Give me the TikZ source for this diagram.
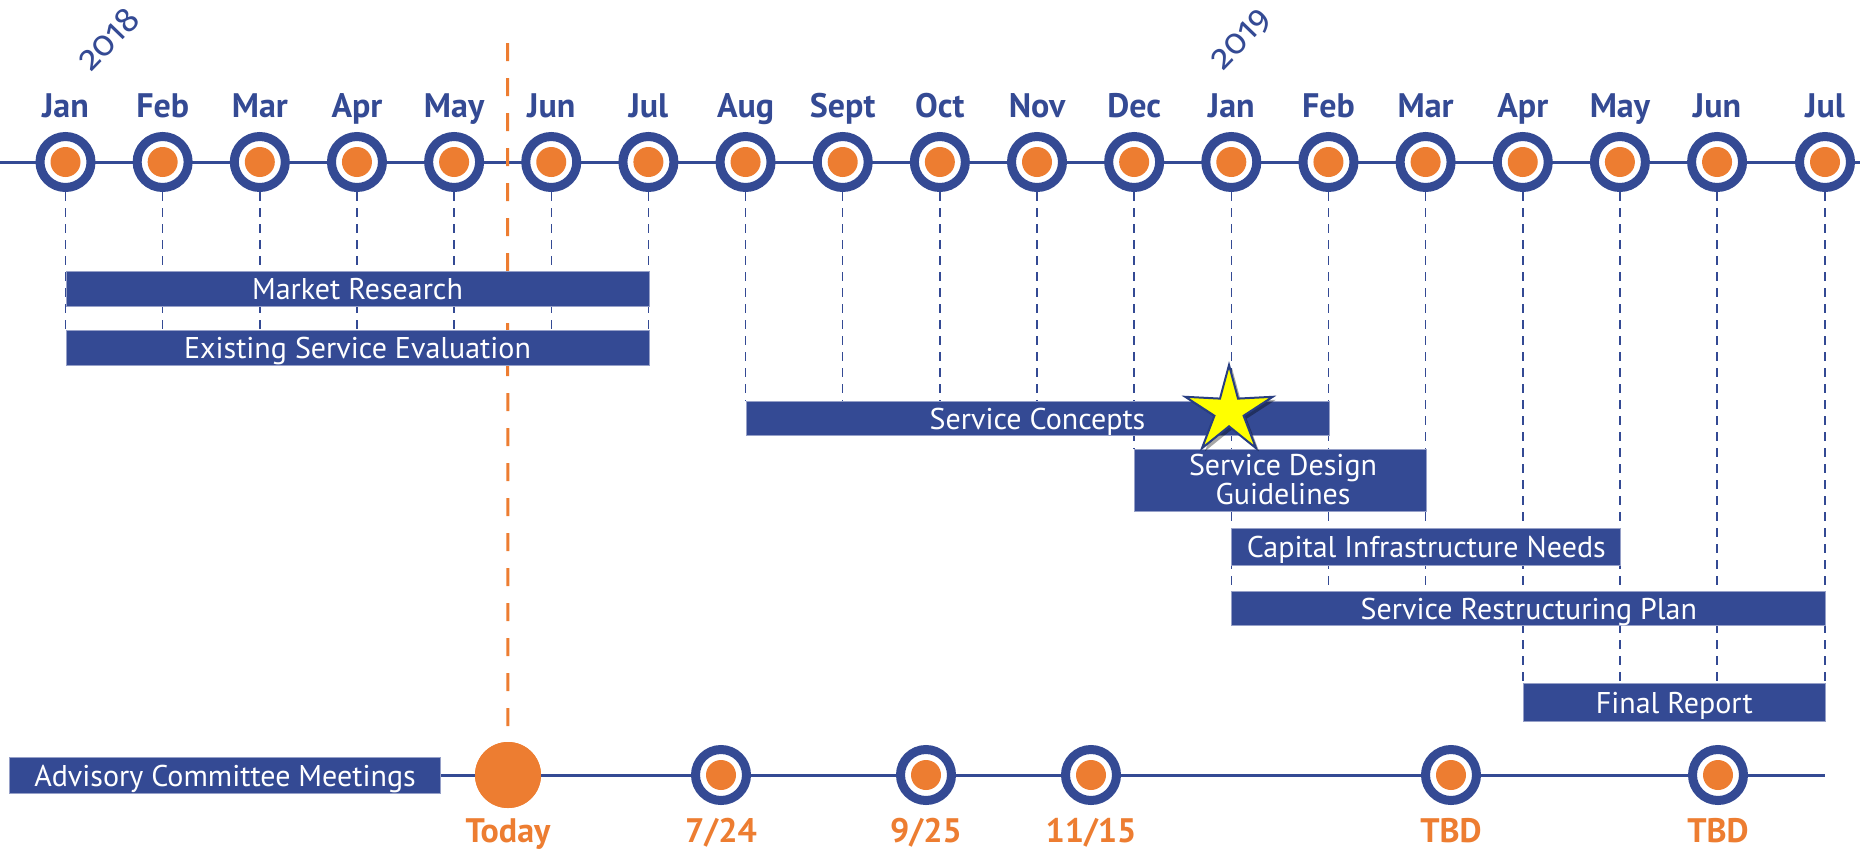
\documentclass[tikz,border=0pt]{standalone}
\usepackage{fontspec}
\setmainfont{PT Sans}
\newfontfamily\yearfont[Numbers=OldStyle]{Fira Sans}
\usetikzlibrary{shapes.geometric,shadows}
\definecolor{tblue}{RGB}{52,74,148}
\definecolor{tedge}{RGB}{150,160,200}
\definecolor{torange}{RGB}{237,125,49}
\definecolor{tyellow}{RGB}{255,255,0}
\definecolor{tstar}{RGB}{40,62,130}
\tikzset{
  ring/.style={circle, draw=tblue, line width=9pt, fill=white, minimum size=51pt, inner sep=0pt},
  dot/.style={circle, fill=torange, minimum size=30pt, inner sep=0pt},
  monthlabel/.style={font=\fontsize{34}{34}\selectfont\bfseries, text=tblue, anchor=base, inner sep=0pt},
  datelabel/.style={font=\fontsize{34}{34}\selectfont\bfseries, text=torange, anchor=base, inner sep=0pt},
  yearlabel/.style={font=\yearfont\fontsize{35}{35}\selectfont, text=tblue, inner sep=0pt, rotate=46},
  guide/.style={draw=tblue, line width=1.5pt, dash pattern=on 9pt off 7pt},
  bar/.style={rectangle, fill=tblue, draw=tedge, line width=1pt, text=white, anchor=north west,
    font=\fontsize{30}{30}\selectfont, inner sep=0pt, text height=21pt, text depth=0pt},
  bartext/.style={text=white, font=\fontsize{30}{29}\selectfont, inner sep=0pt, align=center},
  axis/.style={draw=tblue, line width=3pt},
}
\begin{document}
\begin{tikzpicture}[x=1pt,y=-1pt]
\useasboundingbox[fill=white] (0,0) rectangle (1860,852);

% top axis
\coordinate (axL) at (0,162);
\coordinate (axR) at (1860,162);
\draw[axis] (axL) -- (axR);

% year labels
\node[yearlabel] (y2018) at (108,39) {2018};
\node[yearlabel] (y2019) at (1242,40) {2019};

% months
\foreach \x/\m/\e [count=\i] in {
  65.5/Jan/331, 162.65/Feb/331, 259.8/Mar/331, 356.95/Apr/331, 454.1/May/331,
  551.25/Jun/331, 648.4/Jul/331, 745.55/Aug/401, 842.7/Sept/401, 939.85/Oct/401,
  1037/Nov/401, 1134.15/Dec/449, 1231.3/Jan/591, 1328.45/Feb/591, 1425.6/Mar/591,
  1522.75/Apr/683, 1619.9/May/683, 1717.05/Jun/683, 1825/Jul/683}{
  \coordinate (g\i) at (\x,\e);
  \node[ring] (m\i) at (\x,162) {};
  \node[dot] (d\i) at (m\i) {};
  \node[monthlabel] (l\i) at (\x,117) {\m};
  \draw[guide] (m\i.south) -- (g\i);
}

% today line
\coordinate (todaytop) at (507.5,43);
\node[circle, fill=torange, minimum size=66pt, inner sep=0pt] (today) at (508,775) {};
\draw[torange, line width=3pt, dash pattern=on 18pt off 17pt] (todaytop) -- ([yshift=6pt]today.north);

% bars
\node[bar, minimum width=583pt, minimum height=35pt] (mr) at (65.5,271) {Market Research};
\node[bar, minimum width=583pt, minimum height=35pt] (ese) at (65.5,330) {Existing Service Evaluation};
\node[bar, minimum width=583pt, minimum height=34pt] (sc) at (745.5,401) {Service Concepts};
\node[bar, minimum width=292pt, minimum height=62pt] (sdg) at (1134.2,449) {};
\node[bartext] (sdgt) at (1283,479) {Service Design\\Guidelines};
\node[bar, minimum width=389pt, minimum height=37pt] (cin) at (1231.3,528) {Capital Infrastructure Needs};
\node[bar, minimum width=594pt, minimum height=34pt] (srp) at (1231.3,591) {Service Restructuring Plan};
\node[bar, minimum width=302pt, minimum height=38pt] (fr) at (1522.75,683) {Final Report};

% star
\node[star, star points=5, star point ratio=3, minimum size=92pt, inner sep=0pt,
  fill=tyellow, draw=tstar, line width=2pt,
  drop shadow={shadow xshift=3pt, shadow yshift=-3pt, opacity=0.35, fill=black}] (star) at (1229,411) {};

% advisory committee meetings
\node[bar, minimum width=431pt, minimum height=36pt] (acm) at (9,757) {Advisory Committee Meetings};
\coordinate (bR) at (1825,775);
\draw[axis] (acm.east |- today) -- (today.west);
\draw[axis] (today.east) -- (bR);
\node[circle, fill=torange, minimum size=66pt, inner sep=0pt] (todaydot) at (today) {};
\node[datelabel] (lt) at (508,842) {Today};
\foreach \x/\t [count=\i] in {721/7\slash 24, 926/9\slash 25, 1091/11\slash 15, 1451/TBD, 1718/TBD}{
  \node[ring] (a\i) at (\x,775) {};
  \node[dot] (ad\i) at (a\i) {};
  \node[datelabel] (al\i) at (\x,842) {\t};
}
\end{tikzpicture}
\end{document}
